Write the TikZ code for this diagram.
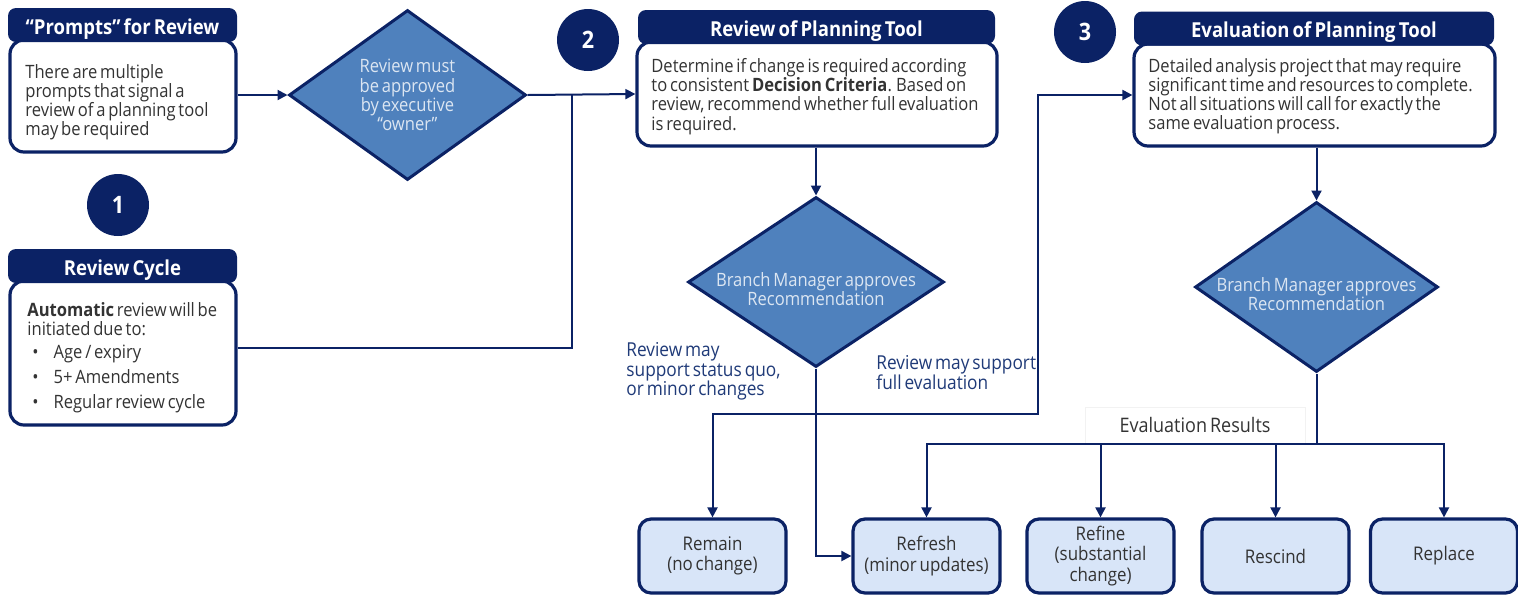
\documentclass[tikz,border=0pt]{standalone}
\usepackage{fontspec}
\setmainfont[FakeStretch=0.9, WordSpace=0.65]{Open Sans}
\usetikzlibrary{shapes.geometric,arrows.meta}
\definecolor{navy}{HTML}{0B2265}
\definecolor{midblue}{HTML}{4F81BD}
\definecolor{diatext}{HTML}{DCE6F2}
\definecolor{lightfill}{HTML}{D8E5F8}
\definecolor{bodytext}{HTML}{333333}
\definecolor{labtext}{HTML}{1F3A78}
\tikzset{
  txt/.style={font=\fontsize{9.2}{9.6}\selectfont},
  hdr/.style={fill=navy, rounded corners=4pt, text=white, font=\fontsize{10.3}{10.5}\selectfont\bfseries, minimum height=17pt, inner sep=0pt, text height=9.2pt, text depth=0pt},
  bodybox/.style={draw=navy, line width=1.6pt, fill=white, rounded corners=7pt},
  bodytxt/.style={anchor=north west, inner sep=0pt, align=left, text=bodytext, txt},
  dia/.style={diamond, fill=midblue, draw=navy, line width=1.5pt, inner sep=0pt, minimum height=85pt},
  dialab/.style={text=diatext, align=center, txt},
  numcirc/.style={circle, fill=navy, text=white, minimum size=31pt, inner sep=0pt, font=\fontsize{12}{12}\selectfont\bfseries},
  result/.style={draw=navy, line width=1.6pt, fill=lightfill, rounded corners=6pt, minimum width=73.5pt, minimum height=37pt, inner sep=1pt, align=center, text=bodytext, font=\fontsize{9.4}{10.2}\selectfont},
  conn/.style={draw=navy, line width=1pt},
  arr/.style={conn, -{Triangle[length=5pt,width=5pt]}},
  biarr/.style={conn, {Triangle[length=5pt,width=5pt]}-{Triangle[length=5pt,width=5pt]}},
  flowlab/.style={text=labtext, align=left, anchor=north west, inner sep=0pt, font=\fontsize{9.6}{9.8}\selectfont}
}
\begin{document}
\begin{tikzpicture}[x=0.5pt,y=-0.5pt]
\useasboundingbox (0,0) rectangle (1518,596);

% Prompts for review
\node[bodybox, minimum width=113pt, minimum height=56pt] (pbody) at (123,96) {};
\node[hdr, minimum width=114.5pt] (phdr) at (122.5,25) {“Prompts” for Review};
\node[bodytxt] (ptext) at (25,64)
  {There are multiple\\ prompts that signal a\\ review of a planning tool\\ may be required};

% Review cycle
\node[numcirc] (c1) at (118,205) {1};
\node[bodybox, minimum width=113pt, minimum height=72pt] (cbody) at (123,353) {};
\node[hdr, minimum width=114.5pt] (chdr) at (122.5,266) {Review Cycle};
\node[bodytxt] (ctext) at (27,302)
  {\textbf{Automatic} review will be\\ initiated due to:\\[1.9pt]
   \hspace*{2.5pt}\textbullet\hspace{7.5pt}Age / expiry\\[2.9pt]
   \hspace*{2.5pt}\textbullet\hspace{7.5pt}5+ Amendments\\[2.9pt]
   \hspace*{2.5pt}\textbullet\hspace{7.5pt}Regular review cycle};

% Diamond 1
\node[dia, minimum width=118.5pt, label={[dialab]center:Review must\\ be approved\\ by executive\\ “owner”}] (d1) at (407.5,95) {};

% Review of planning tool
\node[numcirc] (c2) at (588,40) {2};
\node[bodybox, minimum width=180pt, minimum height=52pt] (rbody) at (817,94) {};
\node[hdr, minimum width=178.5pt] (rhdr) at (816.5,27) {Review of Planning Tool};
\node[bodytxt] (rtext) at (651,58)
  {Determine if change is required according\\ to consistent \textbf{Decision Criteria}. Based on\\ review, recommend whether full evaluation\\ is required.};

% Evaluation of planning tool
\node[numcirc] (c3) at (1085,32) {3};
\node[bodybox, minimum width=180.5pt, minimum height=51pt] (ebody) at (1314.5,95) {};
\node[hdr, minimum width=180pt] (ehdr) at (1314,28.5) {Evaluation of Planning Tool};
\node[bodytxt] (etext) at (1148,58)
  {Detailed analysis project that may require\\ significant time and resources to complete.\\ Not all situations will call for exactly the\\ same evaluation process.};

% Diamonds 2 and 3
\node[dia, minimum width=128pt, label={[dialab, yshift=-3.5pt]center:Branch Manager approves\\ Recommendation}] (d2) at (816,282) {};
\node[dia, minimum width=121.5pt, label={[dialab, yshift=-3.5pt]center:Branch Manager approves\\ Recommendation}] (d3) at (1316.5,287) {};

% Result boxes
\node[result] (remain) at (712.5,556) {Remain\\ (no change)};
\node[result] (refresh) at (926.5,556) {Refresh\\ (minor updates)};
\node[result] (refine) at (1100.5,556) {Refine\\ (substantial\\ change)};
\node[result] (rescind) at (1275.5,556) {Rescind};
\node[result] (replace) at (1444,556) {Replace};

% Labels
\node[flowlab] (l1) at (626,342) {Review may\\ support status quo,\\ or minor changes};
\node[flowlab] (l2) at (876,355) {Review may support\\ full evaluation};
\node[draw=black!5, minimum width=110pt, minimum height=18pt, text=bodytext, font=\fontsize{10}{10}\selectfont] (evres) at (1195,425) {Evaluation Results};

% Connectors
\coordinate (join) at (572,94);
\coordinate (fe) at (1038,414);
\coordinate (bus) at (1316.5,444);

\draw[arr] (d1.west -| pbody.east) -- (d1.west);
\draw[arr] (d1.east) -- (rbody.west);
\draw[conn] (cbody.east |- 0,348) -| (join);
\draw[arr] (rbody.south -| d2.north) -- (d2.north);
\draw[arr] (d2.south) |- (refresh.west);
\draw[biarr] (remain.north) |- (fe) |- (ebody.west);
\draw[arr] (ebody.south -| d3.north) -- (d3.north);
\draw[arr] (d3.south) |- (refresh.north |- bus) -- (refresh.north);
\draw[arr] (bus) -| (replace.north);
\draw[arr] (refine.north |- bus) -- (refine.north);
\draw[arr] (rescind.north |- bus) -- (rescind.north);
\end{tikzpicture}
\end{document}
